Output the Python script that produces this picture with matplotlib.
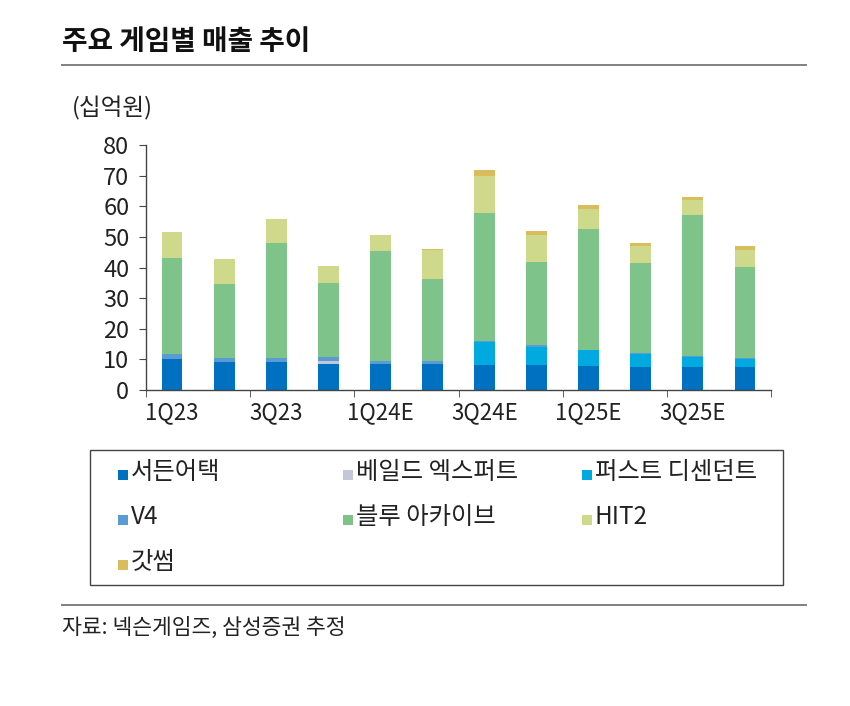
import numpy as np
import matplotlib
matplotlib.use("Agg")
import matplotlib.pyplot as plt
from matplotlib.lines import Line2D
from matplotlib.patches import Rectangle

plt.rcParams['font.family'] = ['Noto Sans CJK KR', 'DejaVu Sans']

# quarters
quarters = ['1Q23', '2Q23', '3Q23', '4Q23', '1Q24E', '2Q24E', '3Q24E', '4Q24E',
            '1Q25E', '2Q25E', '3Q25E', '4Q25E']

# revenue by game (십억원)
sudden = [10.1, 9.1, 9.1, 8.6, 8.4, 8.4, 8.0, 8.0, 7.7, 7.6, 7.5, 7.4]
veiled = [0, 0, 0, 1.0, 0, 0, 0, 0, 0, 0, 0, 0]
first_desc = [0, 0, 0, 0, 0, 0, 7.6, 6.2, 5.2, 4.0, 3.4, 2.7]
v4 = [1.7, 1.4, 1.4, 1.3, 1.2, 1.0, 0.5, 0.6, 0.3, 0.5, 0.2, 0.2]
blue_archive = [31.4, 24.0, 37.5, 24.0, 35.8, 26.9, 41.7, 27.0, 39.3, 29.3, 46.0, 30.0]
hit2 = [8.4, 8.4, 7.9, 5.7, 5.2, 9.3, 12.1, 8.7, 6.7, 5.6, 4.8, 5.5]
gatssum = [0, 0, 0, 0, 0, 0.5, 1.9, 1.3, 1.3, 1.1, 1.1, 1.1]

names = ['서든어택', '베일드 엑스퍼트', '퍼스트 디센던트', 'V4', '블루 아카이브', 'HIT2', '갓썸']
series = [sudden, veiled, first_desc, v4, blue_archive, hit2, gatssum]
colors = ['#0070C0', '#C3C7D8', '#00A9E0', '#5B9BD5', '#7DC38A', '#CFD98C', '#D9BD5C']

fig = plt.figure(figsize=(8.5, 7.06), dpi=100)
ax = fig.add_axes([0.1718, 0.4476, 0.7353, 0.347])

x = np.arange(len(quarters))
bottom = np.zeros(len(quarters))
for vals, c in zip(series, colors):
    ax.bar(x, vals, width=0.4, bottom=bottom, color=c, linewidth=0)
    bottom += np.array(vals)

ax.set_xlim(-0.5, len(quarters) - 0.5)
ax.set_ylim(0, 80)
ax.set_yticks(np.arange(0, 81, 10))
ax.set_xticks(x[::2])
ax.set_xticklabels(quarters[::2])
ax.set_xticks(np.arange(-0.5, len(quarters), 2), minor=True)
ax.tick_params(axis='x', which='major', length=0, labelsize=16, pad=8, colors='#222222')
ax.tick_params(axis='x', which='minor', length=5, direction='out', color='#444444')
ax.tick_params(axis='y', length=5, direction='out', labelsize=17, pad=7,
               color='#444444', labelcolor='#222222')
for s in ['top', 'right']:
    ax.spines[s].set_visible(False)
for s in ['left', 'bottom']:
    ax.spines[s].set_color('#444444')
    ax.spines[s].set_linewidth(1.0)

# titles and rules
fig.text(0.073, 0.9405, '주요 게임별 매출 추이', fontsize=20, fontweight='bold',
         color='#111111', va='center', ha='left')
fig.add_artist(Line2D([0.073, 0.948], [0.908, 0.908], color='#808080', lw=1.4))
fig.text(0.085, 0.847, '(십억원)', fontsize=17, color='#222222', va='center', ha='left')
fig.add_artist(Line2D([0.073, 0.948], [0.143, 0.143], color='#808080', lw=1.4))
fig.text(0.073, 0.110, '자료: 넥슨게임즈, 삼성증권 추정', fontsize=15.5, color='#222222',
         va='center', ha='left')

# legend box, laid out row by row
fig.add_artist(Rectangle((0.1059, 0.1714), 0.815, 0.1912, transform=fig.transFigure,
                         fill=False, edgecolor='#444444', lw=1.0))
col_x = [0.139, 0.4035, 0.685]
row_y = [0.3314, 0.2677, 0.2040]
sq_w = 10 / 850
sq_h = 10 / 706
for i, (name, c) in enumerate(zip(names, colors)):
    r, k = divmod(i, 3)
    fig.add_artist(Rectangle((col_x[k], row_y[r] - sq_h / 2 - 0.004), sq_w, sq_h,
                             transform=fig.transFigure, color=c, lw=0))
    fig.text(col_x[k] + sq_w + 0.003, row_y[r], name, fontsize=17.5, color='#222222',
             va='center', ha='left')

fig.savefig('out.png', dpi=100)
